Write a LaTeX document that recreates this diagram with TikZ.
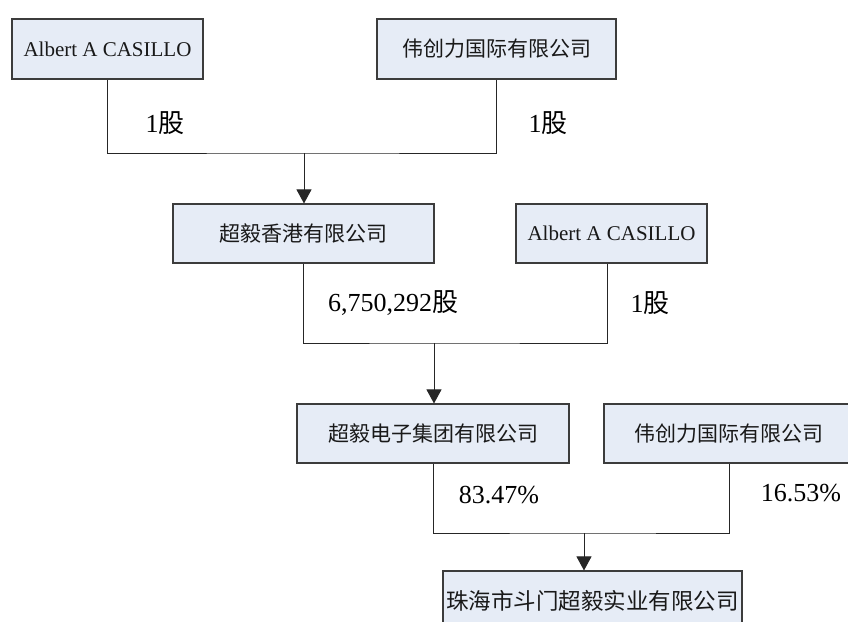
\documentclass[tikz,border=0pt]{standalone}
\usepackage{fontspec}
\setmainfont{Liberation Serif}
\newfontfamily\cjk{Noto Sans CJK SC}
\usetikzlibrary{arrows.meta}
\definecolor{boxfill}{RGB}{230,236,246}
\definecolor{boxline}{RGB}{60,60,60}
\tikzset{
  entity/.style={draw=boxline, line width=1.1pt, fill=boxfill, inner sep=0pt, anchor=center,
    font=\fontsize{21}{25}\selectfont, text=black!90},
  link/.style={draw=black!85, line width=1pt},
  arr/.style={link, -{Triangle[length=14pt,width=15pt]}},
  share/.style={inner sep=0pt, anchor=center, font=\fontsize{26}{30}\selectfont}
}
\begin{document}
\begin{tikzpicture}[x=1pt,y=-1pt]
\useasboundingbox (0,0) rectangle (848,621);
\clip (0,0) rectangle (848,621);
% boxes
\node[entity, minimum width=191pt, minimum height=60pt] (b1) at (107.5,49) {Albert A CASILLO};
\node[entity, minimum width=239pt, minimum height=60pt] (b2) at (496.5,49) {\cjk 伟创力国际有限公司};
\node[entity, minimum width=261pt, minimum height=59pt] (b3) at (303.5,233.5) {\cjk 超毅香港有限公司};
\node[entity, minimum width=191pt, minimum height=59pt] (b4) at (611.5,233.5) {Albert A CASILLO};
\node[entity, minimum width=272pt, minimum height=59pt] (b5) at (433,433.5) {\cjk 超毅电子集团有限公司};
\node[entity, minimum width=250pt, minimum height=59pt] (b6) at (729,433.5) {\cjk 伟创力国际有限公司};
\node[entity, minimum width=299pt, minimum height=59pt, font=\fontsize{22.5}{26}\selectfont] (b7) at (592.5,600.5) {\raisebox{0pt}{\cjk 珠海市斗门超毅实业有限公司}};
% junctions
\coordinate (m1) at (304,153);
\coordinate (m2) at (434,343);
\coordinate (m3) at (584,533);
% connectors
\draw[link] (b1.south) |- (m1) -| (b2.south);
\draw[arr] (m1) -- (m1 |- b3.north);
\draw[link] (b3.south) |- (m2) -| ([xshift=-4.5pt]b4.south);
\draw[arr] (m2) -- (m2 |- b5.north);
\draw[link] (b5.south) |- (m3) -| (b6.south);
\draw[arr] (m3) -- (m3 |- b7.north);
% labels
\node[share] (l1) at (165,123) {1{\cjk 股}};
\node[share] (l2) at (548,123) {1{\cjk 股}};
\node[share] (l3) at (393,303) {6,750,292{\cjk 股}};
\node[share] (l4) at (650,303) {1{\cjk 股}};
\node[share] (l5) at (499,495) {83.47\%};
\node[share] (l6) at (801,493) {16.53\%};
\end{tikzpicture}
\end{document}
